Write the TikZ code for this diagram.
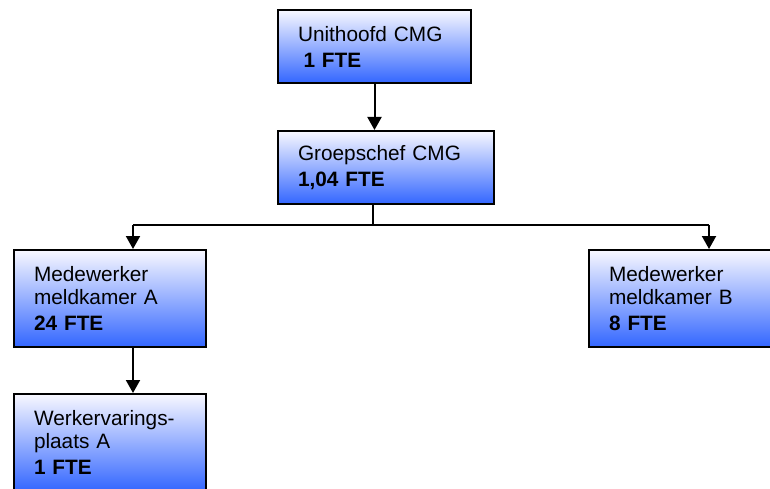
\documentclass[tikz,border=0pt]{standalone}
\usepackage{fontspec}
\setmainfont{Liberation Sans}
\usetikzlibrary{arrows.meta}
\definecolor{boxblue}{RGB}{51,102,255}
\definecolor{boxtop}{RGB}{248,248,255}

\begin{document}
\begin{tikzpicture}[x=1pt, y=-1pt,
    unit/.style={draw, line width=2pt, top color=boxtop, bottom color=boxblue,
      anchor=north west, align=left, inner xsep=20pt, inner ysep=0pt,
      font=\fontsize{20.8}{23}\selectfont},
    pijl/.style={line width=2pt, -{Triangle[width=14pt,length=13pt]}}]
  \useasboundingbox (0,0) rectangle (770,489);
  \clip (0,0) rectangle (770,489);
  % boxes
  \node[unit, text width=153pt, minimum height=73pt] (unithoofd) at (277,9)
    {Unithoofd CMG\\[3pt]\hspace*{5.5pt}\textbf{1 FTE}};
  \node[unit, text width=176pt, minimum height=73pt] (groep) at (277,130)
    {Groepschef CMG\\[3pt]\textbf{1,04 FTE}};
  \node[unit, text width=152pt, minimum height=97pt] (medA) at (13,249)
    {Medewerker\\meldkamer A\\[3pt]\textbf{24 FTE}};
  \node[unit, text width=146pt, minimum height=97pt] (medB) at (588,249)
    {Medewerker\\meldkamer B\\[3pt]\textbf{8 FTE}};
  \node[unit, text width=152pt, minimum height=97pt] (werk) at (13,393)
    {Werkervarings-\\plaats A\\[3pt]\textbf{1 FTE}};
  % connectors
  \coordinate (split) at (373,225);
  \coordinate (armA) at (133,225);
  \coordinate (armB) at (709,225);
  \draw[pijl] (unithoofd.south) -- (unithoofd.south |- groep.north);
  \draw[line width=2pt] (split |- groep.south) -- (split);
  \draw[line width=2pt] (armA) -- (armB);
  \draw[pijl] (armA) -- (armA |- medA.north);
  \draw[pijl] (armB) -- (armB |- medB.north);
  \draw[pijl] (armA |- medA.south) -- (armA |- werk.north);
\end{tikzpicture}
\end{document}
